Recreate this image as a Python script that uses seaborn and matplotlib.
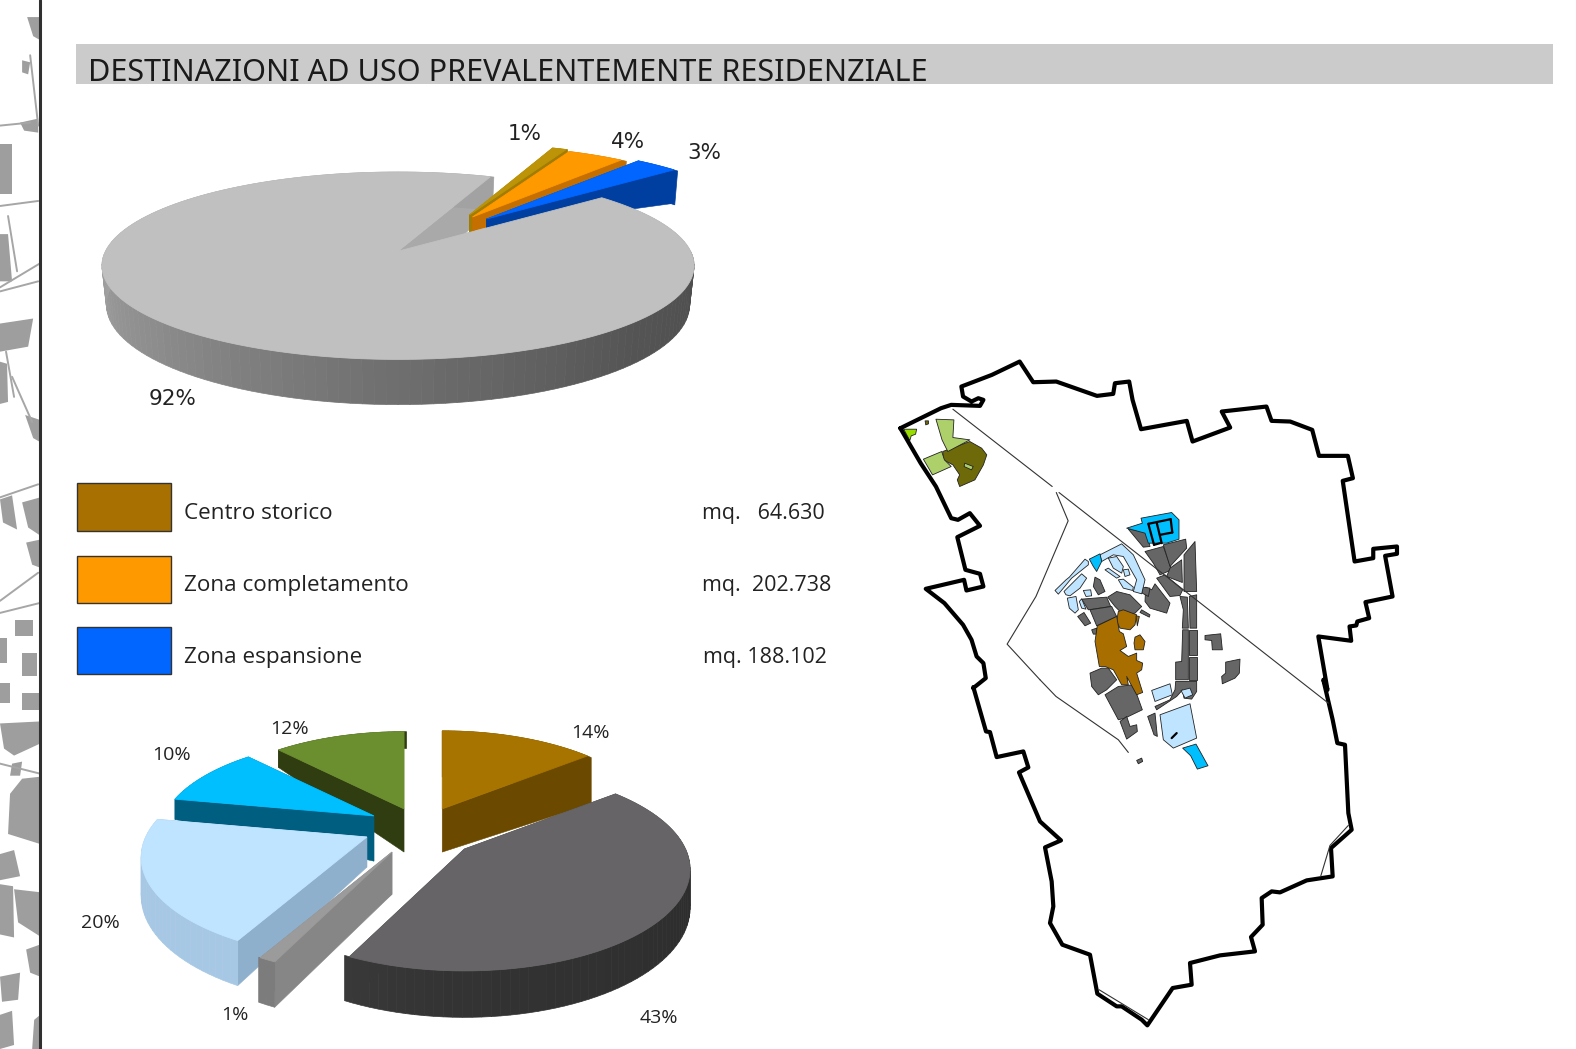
"""Destinazioni ad uso prevalentemente residenziale: two 3D pies, a legend and the town map."""

import matplotlib
matplotlib.use("Agg")
import matplotlib.pyplot as plt
import numpy as np
import seaborn as sns
from matplotlib.patches import Polygon, Rectangle

sns.set_theme(style="white")

TITLE = "DESTINAZIONI AD USO PREVALENTEMENTE RESIDENZIALE"

TOP_VALUES = [92, 1, 4, 3]
TOP_LABELS = ["92%", "1%", "4%", "3%"]
BOTTOM_VALUES = [14, 43, 1, 20, 10, 12]
BOTTOM_LABELS = ["14%", "43%", "1%", "20%", "10%", "12%"]
LEGEND_NAMES = ["Centro storico", "Zona completamento", "Zona espansione"]
LEGEND_AREAS = ["mq.   64.630", "mq.  202.738", "mq. 188.102"]
LEGEND_COLORS = ["#a87000", "#ff9900", "#0066ff"]

# map, pixel coordinates of the crops
OUTLINE_A = [(60, 235), (180, 175), (210, 165), (295, 168), (305, 150), (290, 145), (270, 155), (245, 140),
             (240, 110), (330, 75), (412, 35), (452, 97), (520, 95), (640, 138), (688, 132), (693, 100),
             (735, 95), (745, 150), (770, 238), (905, 213), (922, 275), (1033, 233), (1008, 185), (1140, 170),
             (1155, 213), (1210, 215), (1275, 240), (1295, 318), (1380, 318), (1395, 385), (1365, 393),
             (1400, 635), (1455, 625), (1455, 597), (1525, 590), (1525, 612), (1490, 618), (1512, 740),
             (1432, 757), (1443, 805), (1408, 815), (1405, 827), (1385, 830), (1390, 873), (1293, 860),
             (1320, 1020)]
OUTLINE_B = [(1270, 0), (1298, 120), (1312, 190), (1335, 195), (1345, 400), (1355, 450), (1293, 505),
             (1298, 590), (1220, 602), (1140, 638), (1115, 635), (1085, 655), (1088, 735), (1053, 772),
             (1065, 815), (960, 827), (870, 850), (875, 915), (818, 925), (742, 1037), (725, 1020), (665, 980),
             (650, 980), (592, 942), (570, 825), (487, 795), (450, 730), (460, 680), (455, 605), (435, 503),
             (483, 482), (420, 425), (357, 278), (385, 263), (370, 215), (290, 232), (270, 157), (258, 155),
             (220, 22)]
OUTLINE_C = [(275, 1015), (312, 985), (305, 940), (285, 920), (270, 870), (245, 825), (190, 760), (135, 717),
             (248, 690), (255, 722), (305, 710), (295, 672), (252, 660), (228, 562), (295, 528), (265, 490),
             (230, 510), (210, 505), (165, 410), (120, 340), (60, 235)]
THIN_A = [[(215, 178), (508, 410)], [(520, 428), (555, 513), (460, 740), (375, 883), (472, 990)]]
THIN_B = [[(420, 0), (468, 50), (655, 180), (685, 218)], [(597, 930), (745, 1020)],
          [(1345, 437), (1290, 497), (1262, 590)]]
LONG_LINE_START = [(528, 428)]
LONG_LINE_END = [(1285, 70)]

DARK_BLOCKS = [
    [(445, 88), (500, 95), (510, 140), (490, 142)],
    [(495, 155), (550, 140), (575, 210), (540, 225), (520, 190)],
    [(550, 135), (617, 118), (620, 145), (570, 200)],
    [(570, 205), (605, 180), (607, 248), (560, 230)],
    [(612, 165), (645, 125), (650, 275), (612, 275)],
    [(530, 235), (555, 225), (608, 270), (600, 287), (570, 290)],
    [(497, 262), (515, 270), (525, 252), (570, 310), (560, 340), (510, 325), (495, 305)],
    [(487, 262), (510, 265), (505, 290), (487, 280)],
    [(600, 290), (622, 292), (625, 385), (607, 385), (610, 330)],
    [(628, 290), (650, 285), (650, 385), (630, 385)],
    [(608, 390), (625, 390), (625, 540), (587, 540), (587, 487), (605, 485)],
    [(628, 392), (650, 392), (650, 465), (628, 465)],
    [(628, 472), (650, 472), (650, 540), (628, 540)],
    [(587, 545), (650, 545), (650, 575), (635, 598), (612, 595), (608, 570), (590, 590), (530, 630),
     (525, 620), (570, 600), (585, 570)],
    [(675, 407), (722, 402), (727, 450), (697, 450), (695, 422), (675, 420)],
    [(737, 487), (780, 478), (778, 520), (765, 535), (727, 552), (725, 530), (737, 520)],
    [(305, 298), (380, 292), (392, 320), (325, 330)],
    [(330, 330), (395, 320), (410, 350), (350, 378)],
    [(383, 292), (410, 275), (450, 285), (485, 320), (465, 340), (430, 345), (405, 320)],
    [(485, 330), (510, 345), (508, 352), (480, 338)],
    [(345, 232), (360, 240), (375, 275), (355, 285), (340, 260)],
    [(293, 350), (312, 338), (332, 370), (315, 378)],
    [(335, 390), (350, 385), (350, 403), (340, 403)],
    [(330, 520), (365, 505), (385, 505), (410, 540), (380, 570), (355, 585), (335, 560)],
    [(375, 585), (415, 560), (460, 555), (487, 630), (435, 655), (415, 660)],
    [(420, 665), (440, 650), (450, 680), (470, 675), (472, 695), (440, 718)],
    [(503, 650), (525, 640), (532, 710), (522, 705)],
    [(470, 782), (485, 775), (488, 785), (475, 792)],
]
BROWN_BLOCKS = [
    [(415, 335), (430, 330), (470, 345), (465, 375), (450, 390), (420, 385), (410, 365)],
    [(468, 348), (478, 350), (472, 378)],
    [(345, 425), (352, 378), (410, 350), (418, 395), (430, 402), (440, 440), (420, 452), (445, 470), (470, 460),
     (470, 482), (488, 490), (485, 510), (470, 520), (488, 578), (470, 585), (440, 530), (445, 555), (425, 555),
     (400, 510), (375, 500), (358, 500)],
    [(465, 412), (480, 405), (495, 425), (490, 450), (465, 450), (462, 430)],
]
PALE_BLOCKS = [
    [(225, 272), (258, 240), (268, 232), (315, 178), (325, 185), (325, 195), (275, 235), (235, 283)],
    [(252, 275), (305, 222), (320, 235), (300, 265), (270, 288), (258, 285)],
    [(310, 272), (332, 270), (335, 288), (318, 290)],
    [(262, 295), (288, 290), (295, 330), (285, 340), (268, 325)],
    [(298, 305), (305, 297), (318, 328), (305, 325)],
    [(360, 165), (425, 132), (460, 165), (495, 240), (485, 282), (460, 275), (470, 240), (430, 170), (400, 165),
     (365, 185)],
    [(385, 175), (410, 170), (430, 200), (425, 220), (400, 205)],
    [(375, 210), (385, 205), (420, 230), (410, 235)],
    [(415, 240), (430, 238), (460, 262), (458, 272), (430, 265)],
    [(430, 210), (445, 208), (450, 225), (435, 230)],
    [(515, 572), (570, 552), (577, 585), (525, 605)],
    [(603, 572), (630, 565), (638, 585), (615, 595)],
    [(540, 645), (630, 612), (650, 715), (580, 745), (550, 720)],
]
CYAN_BLOCKS = [
    [(328, 178), (360, 162), (365, 185), (350, 215), (340, 200)],
    [(440, 85), (487, 70), (483, 55), (575, 38), (597, 60), (597, 118), (560, 130), (505, 130), (495, 100)],
    [(608, 745), (648, 733), (684, 798), (652, 808), (632, 768)],
]
OLIVE_BLOCKS = [[(185, 305), (265, 275), (300, 295), (315, 315), (305, 345), (280, 390), (235, 410), (228, 390),
                 (235, 375), (215, 345), (187, 330)],
                [(133, 213), (143, 213), (143, 222), (135, 225)]]
GREEN_BLOCKS = [[(165, 208), (218, 210), (215, 263), (265, 270), (200, 305), (183, 270)],
                [(128, 328), (182, 305), (190, 330), (210, 350), (155, 375)],
                [(250, 340), (275, 350), (270, 360), (248, 350)]]
LIME_BLOCKS = [[(70, 238), (108, 238), (105, 253), (92, 258), (88, 272)]]
BLACK_STROKES = [[(505, 72), (522, 135)], [(522, 135), (540, 130)], [(505, 72), (572, 58)], [(572, 58), (577, 98)],
                 [(577, 98), (540, 105)], [(530, 68), (545, 130)], [(575, 715), (590, 700)]]

# grey street map on the left margin
STRIP_BLOCKS = [
    [(27, 17), (40, 17), (40, 40), (33, 36)], [(0, 143), (12, 143), (12, 193), (0, 193)],
    [(0, 233), (8, 233), (12, 280), (0, 280)], [(0, 322), (33, 317), (28, 345), (0, 350)],
    [(0, 360), (7, 362), (8, 400), (0, 402)], [(25, 413), (40, 418), (40, 440), (33, 436)],
    [(0, 497), (12, 493), (17, 527), (3, 520)], [(22, 500), (40, 495), (40, 533), (28, 525)],
    [(26, 540), (40, 537), (40, 565), (32, 562)], [(15, 617), (33, 617), (33, 633), (15, 633)],
    [(0, 635), (7, 635), (7, 660), (0, 660)], [(22, 650), (37, 650), (37, 673), (22, 673)],
    [(0, 680), (10, 680), (10, 700), (0, 700)], [(22, 690), (40, 690), (40, 707), (22, 707)],
    [(0, 720), (40, 718), (40, 740), (14, 752), (4, 745)], [(10, 790), (22, 775), (40, 773), (40, 840), (8, 830)],
    [(0, 880), (13, 882), (14, 933), (0, 930)], [(14, 885), (40, 888), (40, 932), (18, 918)],
    [(0, 972), (20, 968), (18, 995), (2, 997)], [(34, 1015), (40, 1010), (40, 1044), (32, 1044)],
    [(20, 122), (38, 118), (38, 132), (24, 130)], [(12, 760), (22, 758), (20, 772), (10, 772)],
    [(0, 850), (14, 846), (20, 872), (0, 876)], [(26, 945), (40, 940), (40, 972), (30, 968)],
    [(0, 1010), (12, 1006), (14, 1040), (0, 1044)], [(22, 60), (30, 62), (28, 74), (22, 72)],
]
STRIP_LINES = [[(0, 290), (38, 280)], [(0, 286), (40, 262)], [(0, 205), (38, 200)], [(8, 215), (17, 270)],
               [(6, 350), (14, 395)], [(12, 375), (32, 420)], [(0, 495), (38, 482)], [(0, 598), (38, 570)],
               [(0, 610), (40, 600)], [(30, 55), (38, 125)], [(0, 125), (30, 122)], [(0, 760), (40, 770)]]

K = 1568 / 1576


def crop_a(pts):
    return [((880 + 1.017 * x / 3) * K, (350 + y / 3) * K) for x, y in pts]


def crop_b(pts):
    return [((900 + x / 3) * K, (680 + y / 3) * K) for x, y in pts]


def crop_c(pts):
    return [((980 + x / 3) * K, (500 + y / 3) * K) for x, y in pts]


def slice_angles(values, start):
    spans = np.array(values) * 3.6
    ends = start + np.cumsum(spans)
    return ends - spans, ends


class Pie:
    def __init__(self, ax, rx, ry, persp, depth, taper=1.0):
        self.ax, self.rx, self.ry, self.persp, self.depth, self.taper = ax, rx, ry, persp, depth, taper

    def rim(self, t, scale=1.0):
        t = np.radians(t)
        u, v = np.cos(t), np.sin(t)
        s = 1 / (1 - self.persp * v)
        return self.rx * u * s * scale, self.ry * v * s * scale, s

    def walls(self, apex, t0, t1, wall, outer, scale=1.0, depth=None, apex_depth=None):
        depth = self.depth if depth is None else depth
        apex_depth = depth if apex_depth is None else apex_depth
        ax, (ox, oy) = self.ax, apex
        ramp = sns.blend_palette(outer, 91)
        for t in [t0, t1]:
            x, y, s = self.rim(t, scale)
            if abs(x) < 2:
                continue
            pts = [(ox, oy), (ox + x, oy + y), (ox + x * self.taper, oy + y + depth * s), (ox, oy + apex_depth)]
            ax.add_patch(Polygon(pts, fc=wall, ec=wall, lw=0.4))
        ts = np.arange(t0, t1 + 2, 2.0)
        for a, b in zip(ts[:-1], ts[1:]):
            xa, ya, sa = self.rim(a, scale)
            xb, yb, sb = self.rim(b, scale)
            c = ramp[int(np.clip(((a + 360) % 360) / 2, 0, 90))]
            pts = [(ox + xa, oy + ya), (ox + xb, oy + yb), (ox + xb * self.taper, oy + yb + depth * sb),
                   (ox + xa * self.taper, oy + ya + depth * sa)]
            ax.add_patch(Polygon(pts, fc=c, ec=c, lw=0.5))

    def top(self, apex, t0, t1, color, scale=1.0, edge=None):
        ox, oy = apex
        ts = np.linspace(t0, t1, max(int(t1 - t0), 2) + 1)
        x, y, _ = self.rim(ts, scale)
        pts = [(ox, oy)] + list(zip(ox + x, oy + y))
        self.ax.add_patch(Polygon(pts, fc=color, ec=edge or color, lw=0.6))


def add_blocks(ax, blocks, convert, color, edge="#222222", lw=0.6):
    for b in blocks:
        ax.add_patch(Polygon(convert(b), fc=color, ec=edge, lw=lw, joinstyle="round"))


fig = plt.figure(figsize=(15.76, 10.49), dpi=100, facecolor="white")
ax = fig.add_axes([0, 0, 1, 1])
ax.set_xlim(0, 1568)
ax.set_ylim(1044, 0)
ax.axis("off")

# left margin
for b in STRIP_BLOCKS:
    ax.add_patch(Polygon(b, fc="#9e9e9e", ec="none"))
for line in STRIP_LINES:
    xs, ys = zip(*line)
    ax.plot(xs, ys, color="#a6a6a6", lw=1.4)
ax.plot([40, 40], [0, 1044], color="#303030", lw=2.2)

# title band
ax.add_patch(Rectangle((76, 44), 1469, 40, fc="#cbcbcb", ec="none"))
ax.text(88, 81, TITLE, fontsize=22, family="Noto Sans", color="#1a1a1a", va="baseline", ha="left")

# upper pie
upper = Pie(ax, 291, 91, 0.155, 38, taper=0.985)
starts, ends = slice_angles(TOP_VALUES, -40)
GREY_RAMP = ["#4c4c4c", "#555555", "#6f6f6f", "#8b8b8b", "#a2a2a2"]
upper.walls((396, 250), starts[0], ends[0], "#a9a9a9", GREY_RAMP, apex_depth=48)
small = [((467, 214), "#bd9408", "#a07c00", 1, 18), ((470, 216), "#ff9900", "#c46f00", 2, 14),
         ((484, 218), "#0066ff", "#003f9f", 3, 10)]
for apex, top_c, wall_c, i, front in small:
    t0, t1 = starts[i] - 360, ends[i] - 360
    upper.walls(apex, t0, t1, wall_c, [wall_c, wall_c], scale=0.92 if i == 3 else 0.9, depth=37, apex_depth=front)
    upper.top(apex, t0, t1, top_c, scale=0.92 if i == 3 else 0.9)
upper.top((396, 250), starts[0], ends[0], "#c0c0c0")
for (x, y), label in zip([(172, 397), (522, 133), (625, 141), (701, 152)], TOP_LABELS):
    ax.text(x, y, label, fontsize=15.5, family="DejaVu Sans", color="#222222", ha="center", va="center")

# legend
for y, name, area, color, area_x in zip([481, 553, 624], LEGEND_NAMES, LEGEND_AREAS, LEGEND_COLORS, [698, 698, 699]):
    ax.add_patch(Rectangle((77, y), 93, 47, fc=color, ec="#333333", lw=1.0))
    ax.text(183, y + 30, name, fontsize=16.2, family="Open Sans", color="#222222", va="center")
    ax.text(area_x, y + 30, area, fontsize=15.5, family="Open Sans", color="#222222", va="center")

# lower pie
lower = Pie(ax, 220, 97, 0.2, 37)
starts, ends = slice_angles(BOTTOM_VALUES, -90)
parts = [
    (0, (440, 805), "#a87400", "#6b4a00", ["#6b4a00", "#6b4a00"], 0.96, 55, 43),
    (5, (402, 805), "#6b8e2e", "#2f3d10", ["#2f3d10", "#2f3d10"], 0.95, 20, 43),
    (4, (372, 812), "#00bfff", "#005f80", ["#005f80", "#005f80"], 0.95, 21, 45),
    (3, (365, 833), "#bfe4ff", "#8fb0cc", ["#a7c8e4", "#a7c8e4", "#a7c8e4"], 1.0, 37, 30),
    (2, (390, 848), "#9b9b9b", "#868686", ["#7c7c7c", "#7c7c7c"], 1.02, 37, 42),
    (1, (462, 845), "#666466", "#3a3a3a", ["#2c2c2c", "#333333", "#4a484a"], 1.0, 37, 37),
]
for i, apex, top_c, wall_c, outer, scale, depth, front in parts:
    lower.walls(apex, starts[i], ends[i], wall_c, outer, scale, depth=depth, apex_depth=front)
    lower.top(apex, starts[i], ends[i], top_c, scale)
for (x, y), label in zip([(587, 730), (656, 1013), (234, 1010), (100, 919), (171, 751), (288, 726)], BOTTOM_LABELS):
    ax.text(x, y, label, fontsize=14, family="Open Sans", color="#222222", ha="center", va="center")

# map
outline = crop_a(OUTLINE_A) + crop_b(OUTLINE_B) + crop_a(OUTLINE_C)
xs, ys = zip(*outline)
ax.plot(xs, ys, color="black", lw=3.0, solid_joinstyle="round")
for line in THIN_A:
    xs, ys = zip(*crop_a(line))
    ax.plot(xs, ys, color="#333333", lw=0.8)
for line in THIN_B:
    xs, ys = zip(*crop_b(line))
    ax.plot(xs, ys, color="#333333", lw=0.8)
xs, ys = zip(*(crop_a(LONG_LINE_START) + crop_b(LONG_LINE_END)))
ax.plot(xs, ys, color="#333333", lw=0.8)
add_blocks(ax, DARK_BLOCKS, crop_c, "#666666")
add_blocks(ax, BROWN_BLOCKS, crop_c, "#a86f00")
add_blocks(ax, PALE_BLOCKS, crop_c, "#bfe4ff")
add_blocks(ax, CYAN_BLOCKS, crop_c, "#00bfff")
add_blocks(ax, OLIVE_BLOCKS, crop_a, "#6e6a0a")
add_blocks(ax, GREEN_BLOCKS, crop_a, "#aed06a")
add_blocks(ax, LIME_BLOCKS, crop_a, "#99dd00")
for line in BLACK_STROKES:
    xs, ys = zip(*crop_c(line))
    ax.plot(xs, ys, color="black", lw=1.6)

fig.savefig("out.png", dpi=100, facecolor="white")
